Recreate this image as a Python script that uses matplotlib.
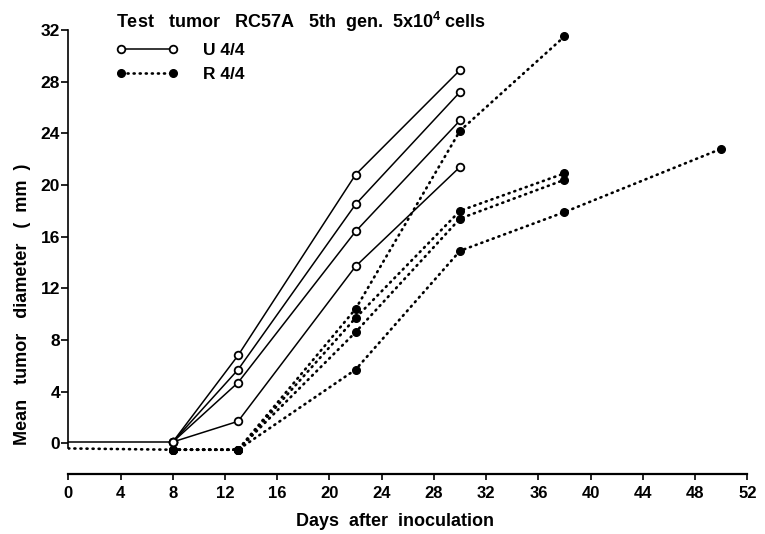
import matplotlib
matplotlib.use("Agg")
import matplotlib.pyplot as plt
from matplotlib.lines import Line2D

plt.rcParams['font.family'] = ['Liberation Sans', 'DejaVu Sans']
plt.rcParams['font.weight'] = 'bold'
plt.rcParams['mathtext.fontset'] = 'custom'
plt.rcParams['mathtext.rm'] = 'Liberation Sans:bold'

# shared early part (no markers at day 0)
days_start = [0, 8]
u_start = [0.1, 0.1]
r_start = [-0.4, -0.5]

# untreated (U), open circles
u_days = [8, 13, 22, 30]
u_series = [
    [0.1, 6.8, 20.8, 28.9],
    [0.1, 5.7, 18.5, 27.2],
    [0.1, 4.7, 16.4, 25.0],
    [0.1, 1.7, 13.7, 21.4],
]

# R group, filled dots
r_series = [
    ([8, 13, 22, 30, 38], [-0.5, -0.5, 10.4, 24.2, 31.5]),
    ([8, 13, 22, 30, 38], [-0.5, -0.5, 9.7, 18.0, 20.9]),
    ([8, 13, 22, 30, 38], [-0.5, -0.5, 8.6, 17.4, 20.4]),
    ([8, 13, 22, 30, 38, 50], [-0.5, -0.5, 5.7, 14.9, 17.9, 22.8]),
]

x_ticks = list(range(0, 53, 4))
y_ticks = list(range(0, 33, 4))

fig = plt.figure(figsize=(7.65, 5.34), dpi=100)
ax = fig.add_axes([68.3 / 765, 60 / 534, 679 / 765, 444 / 534])

solid = dict(color='black', lw=1.1, ls='-')
dotted = dict(color='black', lw=1.9, ls=(0, (0.4, 1.9)), dash_capstyle='round')
u_mark = dict(marker='o', ms=5.5, mfc='white', mec='black', mew=1.3)
r_mark = dict(marker='o', ms=5.5, mfc='black', mec='black')

ax.plot(days_start, u_start, **solid)
ax.plot(days_start, r_start, **dotted)
for ys in u_series:
    ax.plot(u_days, ys, **solid, **u_mark, zorder=3)
for xs, ys in r_series:
    ax.plot(xs, ys, **dotted, **r_mark, zorder=2)

ax.set_xlim(0, 52)
ax.set_ylim(-2.38, 32)
ax.set_xticks(x_ticks)
ax.set_yticks(y_ticks)
ax.spines['top'].set_visible(False)
ax.spines['right'].set_visible(False)
ax.spines['left'].set_bounds(-0.4, 32)
ax.spines['left'].set_linewidth(1.2)
ax.spines['bottom'].set_linewidth(1.6)
ax.tick_params(axis='x', direction='out', length=4, width=1.2, pad=5, labelsize=12)
ax.tick_params(axis='y', direction='out', length=5, width=1.2, pad=1, labelsize=12.5)

ax.set_xlabel('Days  after  inoculation', fontsize=13, fontweight='bold')
ax.xaxis.set_label_coords(0.481, -0.088)
ax.set_ylabel('Mean   tumor   diameter   (  mm  )', fontsize=13, fontweight='bold')
ax.yaxis.set_label_coords(-0.055, 0.383)

handles = [
    Line2D([], [], **solid, **u_mark),
    Line2D([], [], **dotted, **r_mark),
]
leg = ax.legend(handles, ['U 4/4', 'R 4/4'], numpoints=2, frameon=False,
                loc='upper left', bbox_to_anchor=(116 / 765, 1 - 10 / 534),
                bbox_transform=fig.transFigure, borderpad=0, borderaxespad=0,
                handlelength=3.6, handletextpad=1.4, labelspacing=0.5,
                fontsize=12.5,
                title=r'Test   tumor   RC57A   5th  gen.  5x10$^{\mathregular{4}}$ cells',
                title_fontproperties={'size': 13, 'weight': 'bold'},
                alignment='left')

fig.savefig('out.png', dpi=100)
